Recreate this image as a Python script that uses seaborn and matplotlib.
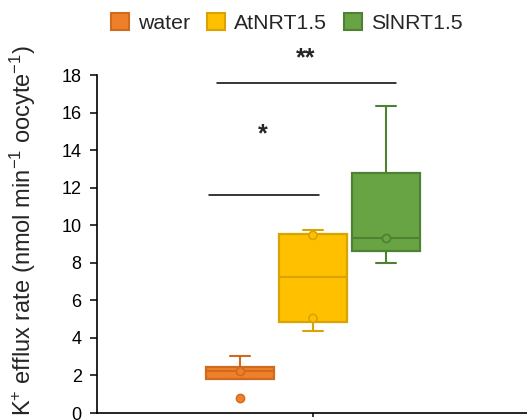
import matplotlib
matplotlib.use("Agg")
import matplotlib.pyplot as plt
from matplotlib.patches import Patch
import numpy as np
import pandas as pd
import seaborn as sns

# Measured K+ efflux per oocyte (nmol min-1 oocyte-1)
treatments = ["water", "AtNRT1.5", "SlNRT1.5"]
water_vals = [0.82, 1.83, 2.26, 2.47, 3.01]
atnrt_vals = [4.36, 5.04, 9.46, 9.76]
slnrt_vals = [7.98, 8.65, 9.33, 12.8, 16.35]

# Individual points highlighted inside the boxes
water_marks = [2.26]
atnrt_marks = [5.04, 9.46]
slnrt_marks = [9.33]

fill_colors = ["#F07F2B", "#FFC000", "#68A443"]
edge_colors = ["#CF6A1E", "#D9A300", "#4F8033"]

# Significance brackets: (x start, x end, y level, label, label x, label y)
brackets = [
    (-0.381, 0.022, 11.63, "*", -0.183, 14.85),
    (-0.352, 0.304, 17.57, "**", -0.026, 18.9),
]

sns.set_style("ticks")
plt.rcParams["font.family"] = ["Liberation Sans", "DejaVu Sans"]
plt.rcParams["mathtext.fontset"] = "custom"
plt.rcParams["mathtext.rm"] = "Liberation Sans"
plt.rcParams["mathtext.it"] = "Liberation Sans"

group = ""
df = pd.DataFrame({
    "grp": group,
    "treatment": (["water"] * len(water_vals) + ["AtNRT1.5"] * len(atnrt_vals)
                  + ["SlNRT1.5"] * len(slnrt_vals)),
    "value": water_vals + atnrt_vals + slnrt_vals,
})
marks = pd.DataFrame({
    "grp": group,
    "treatment": (["water"] * len(water_marks) + ["AtNRT1.5"] * len(atnrt_marks)
                  + ["SlNRT1.5"] * len(slnrt_marks)),
    "value": water_marks + atnrt_marks + slnrt_marks,
})

fig = plt.figure(figsize=(5.27, 4.2), dpi=100)
ax = fig.add_axes([97 / 527, 7 / 420, 432 / 527, 338 / 420])

palette = dict(zip(treatments, fill_colors))
sns.boxplot(data=df, x="grp", y="value", hue="treatment", hue_order=treatments,
            palette=palette, gap=0.066, linewidth=1.5, whis=1.5,
            capwidths=0.073, legend=False, ax=ax,
            flierprops=dict(marker="o", markersize=6))

for i, cont in enumerate(ax.containers):
    fc, ec = fill_colors[i], edge_colors[i]
    for b in cont.boxes:
        b.set_facecolor(fc)
        b.set_edgecolor(ec)
        b.set_linewidth(1.6)
    for ln in list(cont.medians) + list(cont.whiskers) + list(cont.caps):
        ln.set_color(ec)
        ln.set_linewidth(1.5)
    for ln in cont.fliers:
        ln.set_markerfacecolor(fc)
        ln.set_markeredgecolor(ec)
        ln.set_markeredgewidth(1.0)
        ln.set_markersize(6)

n_before = len(ax.collections)
sns.stripplot(data=marks, x="grp", y="value", hue="treatment", hue_order=treatments,
              palette=palette, dodge=True, jitter=False, size=5.8, linewidth=1.2,
              legend=False, ax=ax, zorder=5)
edge_by_fill = {matplotlib.colors.to_hex(f): e for f, e in zip(fill_colors, edge_colors)}
for coll in ax.collections[n_before:]:
    fcs = coll.get_facecolors()
    if len(fcs):
        key = matplotlib.colors.to_hex(fcs[0])
        coll.set_edgecolor(edge_by_fill.get(key, "black"))

for x0, x1, y, label, tx, ty in brackets:
    ax.plot([x0, x1], [y, y], color="black", lw=1.1, clip_on=False)
    ax.text(tx, ty, label, ha="center", va="center", fontsize=18,
            fontweight="bold", clip_on=False)

ax.set_xlim(-0.79, 0.79)
ax.set_ylim(0, 18)
ax.set_yticks(np.arange(0, 19, 2))
ax.set_xticks([0])
ax.set_xticklabels([""])
ax.set_xlabel("")
ax.set_ylabel(r"K$^{+}$ efflux rate (nmol min$^{-1}$ oocyte$^{-1}$)", fontsize=17)
ax.yaxis.set_label_coords(-0.137, 0.541)

sns.despine(ax=ax)
for s in ("left", "bottom"):
    ax.spines[s].set_linewidth(1.2)
    ax.spines[s].set_color("black")
ax.tick_params(axis="y", length=5, width=1.1, labelsize=13, pad=6, colors="black")
ax.tick_params(axis="x", length=3, width=1.1, colors="black")

handles = [Patch(facecolor=f, edgecolor=e, linewidth=1.5, label=t)
           for t, f, e in zip(treatments, fill_colors, edge_colors)]
fig.legend(handles=handles, loc="center", bbox_to_anchor=(287 / 527, 1 - 23 / 420),
           ncol=3, frameon=False, fontsize=15.3, handlelength=0.85,
           handleheight=0.85, handletextpad=0.42, columnspacing=0.8,
           borderpad=0.2)

fig.savefig("out.png", dpi=100)
